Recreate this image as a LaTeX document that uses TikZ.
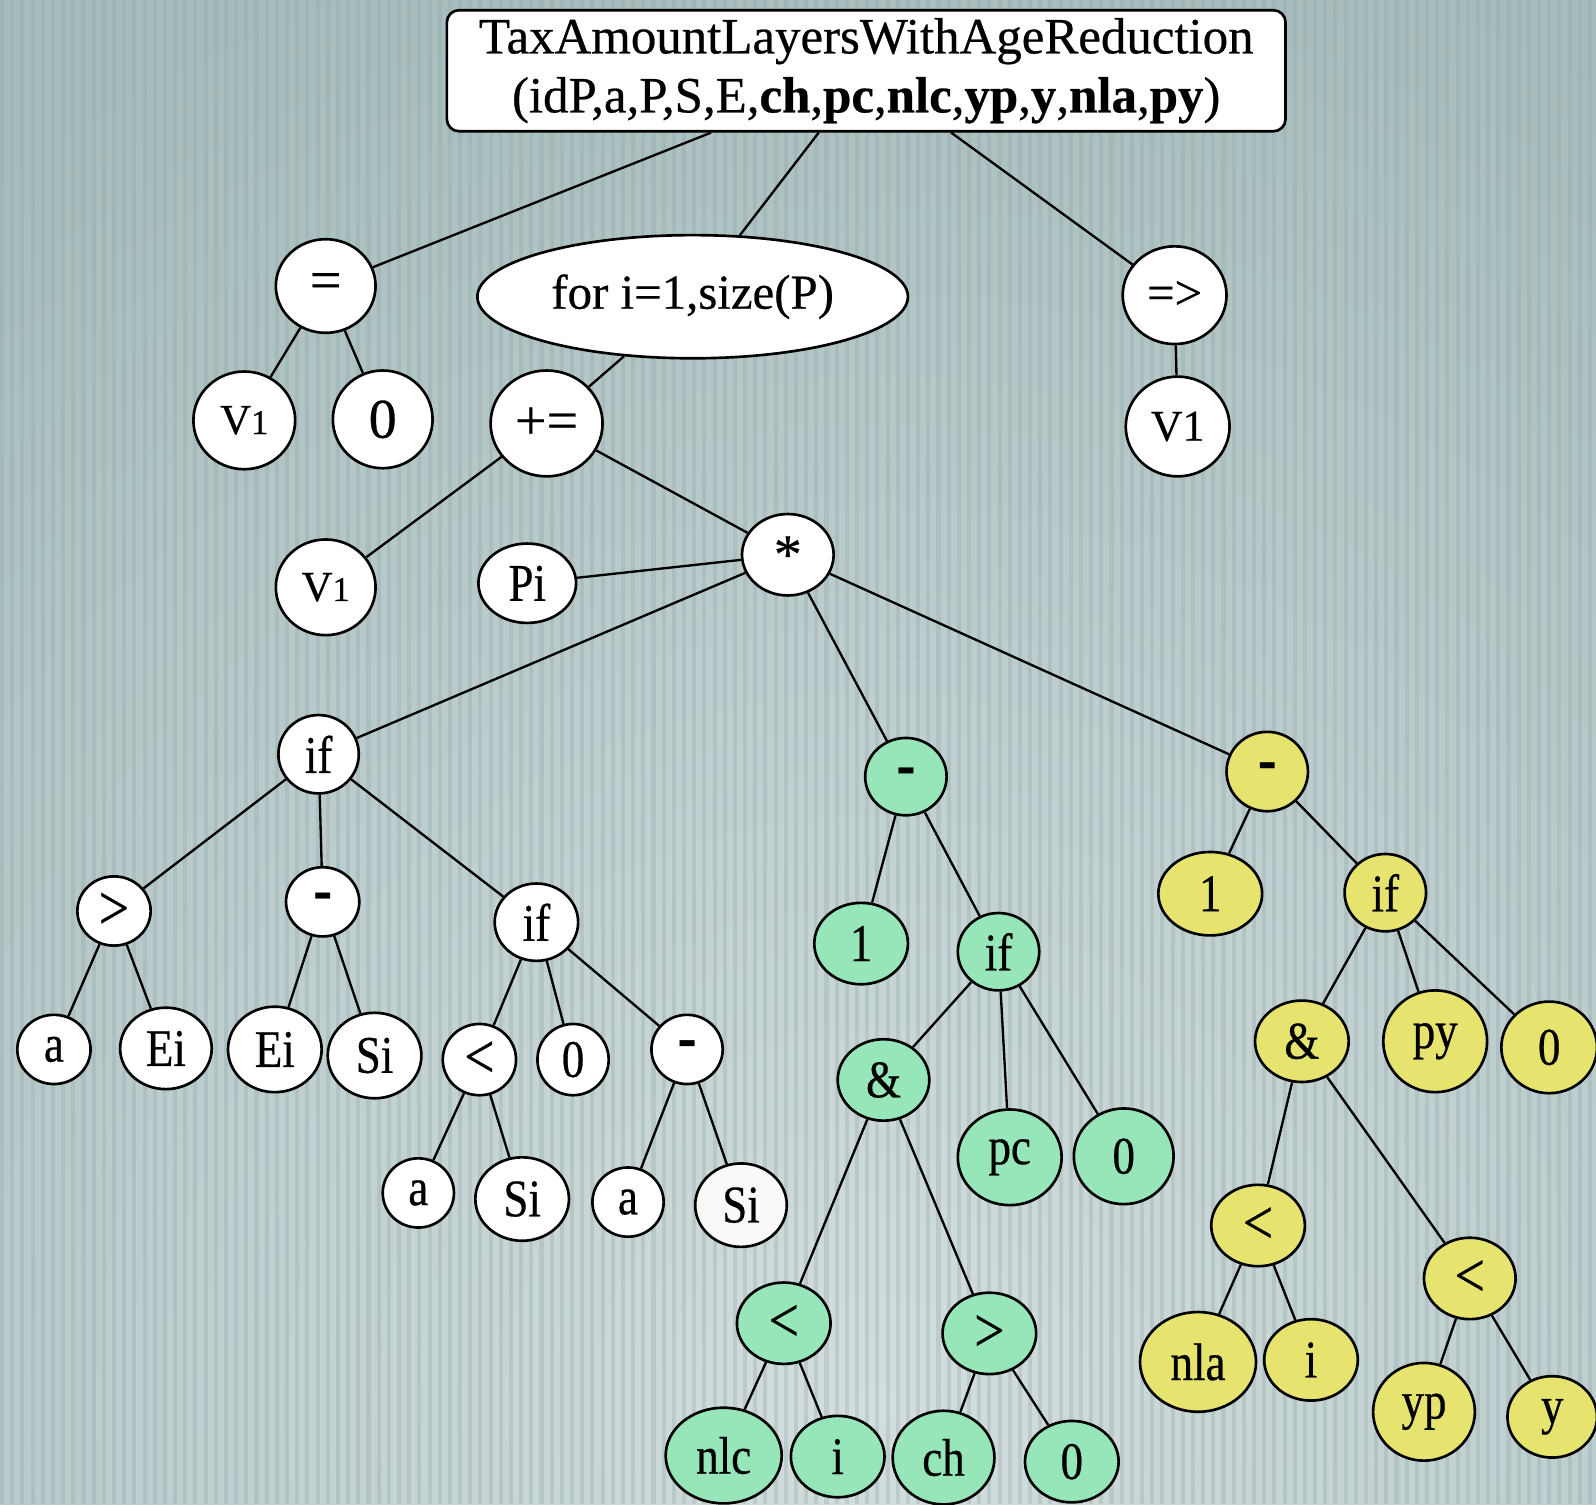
\documentclass[tikz,border=0pt]{standalone}
\usepackage{fontspec}
\setmainfont[FakeBold=0.5]{Liberation Serif}
\newfontfamily\labfont[FakeStretch=0.85,FakeBold=0.5]{Liberation Serif}
\usetikzlibrary{shapes.geometric}
\definecolor{bgA}{HTML}{A6BBBB}
\definecolor{bgL}{HTML}{D4DEDE}
\definecolor{bgS}{HTML}{8EA6A9}
\definecolor{grn}{HTML}{96E6BA}
\definecolor{ylw}{HTML}{E6E46E}
\tikzset{
  nd/.style={draw, ellipse, line width=2.6pt, inner sep=0pt, fill=white},
  gr/.style={nd, fill=grn},
  yl/.style={nd, fill=ylw},
  big/.style={font=\fontsize{55}{55}\selectfont},
  mid/.style={font=\fontsize{48}{48}\selectfont},
  sml/.style={font=\labfont\fontsize{52}{52}\selectfont},
  cmp/.style={font=\labfont\fontsize{62}{62}\selectfont},
  ed/.style={line width=2.3pt},
}
\newcommand{\vone}[2]{{\fontsize{#1}{#1}\selectfont V}{\fontsize{#2}{#2}\selectfont 1}}
\newcommand{\minus}{{\fontsize{64}{64}\selectfont\bfseries -}}
\begin{document}
\begin{tikzpicture}[x=1pt,y=-1pt]
\useasboundingbox (0,0) rectangle (1568,1478);
% background
\fill[bgA] (0,0) rectangle (1568,1478);
\begin{scope}
\clip (0,0) rectangle (1568,1478);
\shade[inner color=bgL, outer color=bgA] (860,1380) circle (1500);
\foreach \i in {0,...,156} \fill[bgS, opacity=0.3] (\i*10,0) rectangle (\i*10+4,1478);
\end{scope}

% root
\node[draw, rounded corners=12pt, line width=2.6pt, fill=white, minimum width=824pt,
  minimum height=119pt, align=center, inner sep=0pt,
  font=\fontsize{50}{58}\selectfont] (root) at (851,69.5)
  {TaxAmountLayersWithAgeReduction\\(idP,a,P,S,E,\textbf{ch},\textbf{pc},\textbf{nlc},\textbf{yp},\textbf{y},\textbf{nla},\textbf{py})};

% level 1
\node[nd, big, minimum width=98pt, minimum height=92pt] (eq) at (320,281) {=};
\node[nd, mid, minimum width=423pt, minimum height=121pt] (for) at (680.5,291.5) {for i=1,size(P)};
\node[nd, mid, minimum width=102pt, minimum height=96pt] (imp) at (1154,290) {=>};
\node[nd, minimum width=102pt, minimum height=98pt] (v1r) at (1157,419) {\vone{43}{43}};
\node[nd, minimum width=100pt, minimum height=96pt] (v1a) at (240,413) {\vone{42}{34}};
\node[nd, big, minimum width=98pt, minimum height=96pt] (z0) at (376,412) {0};
\node[nd, big, minimum width=110pt, minimum height=104pt] (pe) at (537,416) {+=};
\node[nd, minimum width=98pt, minimum height=94pt] (v1b) at (320,577) {\vone{42}{34}};
\node[nd, sml, minimum width=96pt, minimum height=78pt] (pi) at (518,573) {Pi};
\node[nd, big, minimum width=90pt, minimum height=80pt] (mul) at (774,545) {*};

% white subtree
\node[nd, sml, minimum width=79pt, minimum height=77pt] (ifA) at (313,741) {if};
\node[nd, cmp, minimum width=72pt, minimum height=68pt] (gt) at (112,895) {>};
\node[nd, sml, minimum width=72pt, minimum height=68pt] (wm) at (317,886) {\minus};
\node[nd, sml, minimum width=82pt, minimum height=76pt] (ifB) at (527,906) {if};
\node[nd, sml, minimum width=72pt, minimum height=68pt] (a1) at (53,1031) {a};
\node[nd, sml, minimum width=90pt, minimum height=80pt] (ei1) at (163,1030) {Ei};
\node[nd, sml, minimum width=92pt, minimum height=84pt] (ei2) at (270,1031) {Ei};
\node[nd, sml, minimum width=92pt, minimum height=84pt] (si1) at (368,1037) {Si};
\node[nd, cmp, minimum width=72pt, minimum height=70pt] (lt1) at (471,1041) {<};
\node[nd, sml, minimum width=70pt, minimum height=70pt] (z1) at (563,1041) {0};
\node[nd, sml, minimum width=70pt, minimum height=68pt] (wm2) at (675,1031) {\minus};
\node[nd, sml, minimum width=70pt, minimum height=68pt] (a2) at (411,1172) {a};
\node[nd, sml, minimum width=92pt, minimum height=82pt] (si2) at (513,1178) {Si};
\node[nd, sml, minimum width=70pt, minimum height=68pt] (a3) at (617,1181) {a};
\node[nd, sml, minimum width=90pt, minimum height=82pt, fill={rgb,255:red,251;green,249;blue,247}] (si3) at (728,1184) {Si};

% green subtree
\node[gr, sml, minimum width=80pt, minimum height=76pt] (gm) at (890,763) {\minus};
\node[gr, sml, minimum width=92pt, minimum height=80pt] (g1) at (846,927) {1};
\node[gr, sml, minimum width=80pt, minimum height=76pt] (gif) at (981,935) {if};
\node[gr, sml, minimum width=90pt, minimum height=80pt] (gand) at (868,1061) {\&};
\node[gr, sml, minimum width=102pt, minimum height=94pt] (gpc) at (992,1137) {pc};
\node[gr, sml, minimum width=98pt, minimum height=94pt] (g0) at (1104,1136) {0};
\node[gr, cmp, minimum width=92pt, minimum height=80pt] (glt) at (770,1300) {<};
\node[gr, cmp, minimum width=92pt, minimum height=80pt] (ggt) at (972,1310) {>};
\node[gr, sml, minimum width=114pt, minimum height=94pt] (gnlc) at (711,1430) {nlc};
\node[gr, sml, minimum width=92pt, minimum height=80pt] (gi) at (823,1431) {i};
\node[gr, sml, minimum width=100pt, minimum height=92pt] (gch) at (927,1432) {ch};
\node[gr, sml, minimum width=92pt, minimum height=80pt] (g0b) at (1053,1436) {0};

% yellow subtree
\node[yl, sml, minimum width=80pt, minimum height=78pt] (ym) at (1245,758) {\minus};
\node[yl, sml, minimum width=102pt, minimum height=82pt] (y1) at (1189,878) {1};
\node[yl, sml, minimum width=80pt, minimum height=76pt] (yif) at (1361,877) {if};
\node[yl, sml, minimum width=92pt, minimum height=80pt] (yand) at (1279,1023) {\&};
\node[yl, sml, minimum width=102pt, minimum height=100pt] (ypy) at (1410,1023) {py};
\node[yl, sml, minimum width=94pt, minimum height=90pt] (y0) at (1522,1029) {0};
\node[yl, cmp, minimum width=92pt, minimum height=80pt] (ylt1) at (1236,1204) {<};
\node[yl, cmp, minimum width=90pt, minimum height=80pt] (ylt2) at (1444,1256) {<};
\node[yl, sml, minimum width=114pt, minimum height=98pt] (ynla) at (1177,1338) {nla};
\node[yl, sml, minimum width=92pt, minimum height=80pt] (yi) at (1288,1336) {i};
\node[yl, sml, minimum width=100pt, minimum height=96pt] (yyp) at (1399,1387) {yp};
\node[yl, sml, minimum width=88pt, minimum height=80pt] (yy) at (1525,1392) {y};

% edges
\draw[ed] (root) -- (eq);
\draw[ed] (root) -- (for);
\draw[ed] (root) -- (imp);
\draw[ed] (eq) -- (v1a);
\draw[ed] (eq) -- (z0);
\draw[ed] (for) -- (pe);
\draw[ed] (imp) -- (v1r);
\draw[ed] (pe) -- (v1b);
\draw[ed] (pe) -- (mul);
\draw[ed] (mul) -- (pi);
\draw[ed] (mul) -- (ifA);
\draw[ed] (mul) -- (gm);
\draw[ed] (mul) -- (ym);
\draw[ed] (ifA) -- (gt);
\draw[ed] (ifA) -- (wm);
\draw[ed] (ifA) -- (ifB);
\draw[ed] (gt) -- (a1);
\draw[ed] (gt) -- (ei1);
\draw[ed] (wm) -- (ei2);
\draw[ed] (wm) -- (si1);
\draw[ed] (ifB) -- (lt1);
\draw[ed] (ifB) -- (z1);
\draw[ed] (ifB) -- (wm2);
\draw[ed] (lt1) -- (a2);
\draw[ed] (lt1) -- (si2);
\draw[ed] (wm2) -- (a3);
\draw[ed] (wm2) -- (si3);
\draw[ed] (gm) -- (g1);
\draw[ed] (gm) -- (gif);
\draw[ed] (gif) -- (gand);
\draw[ed] (gif) -- (gpc);
\draw[ed] (gif) -- (g0);
\draw[ed] (gand) -- (glt);
\draw[ed] (gand) -- (ggt);
\draw[ed] (glt) -- (gnlc);
\draw[ed] (glt) -- (gi);
\draw[ed] (ggt) -- (gch);
\draw[ed] (ggt) -- (g0b);
\draw[ed] (ym) -- (y1);
\draw[ed] (ym) -- (yif);
\draw[ed] (yif) -- (yand);
\draw[ed] (yif) -- (ypy);
\draw[ed] (yif) -- (y0);
\draw[ed] (yand) -- (ylt1);
\draw[ed] (yand) -- (ylt2);
\draw[ed] (ylt1) -- (ynla);
\draw[ed] (ylt1) -- (yi);
\draw[ed] (ylt2) -- (yyp);
\draw[ed] (ylt2) -- (yy);
\end{tikzpicture}
\end{document}
